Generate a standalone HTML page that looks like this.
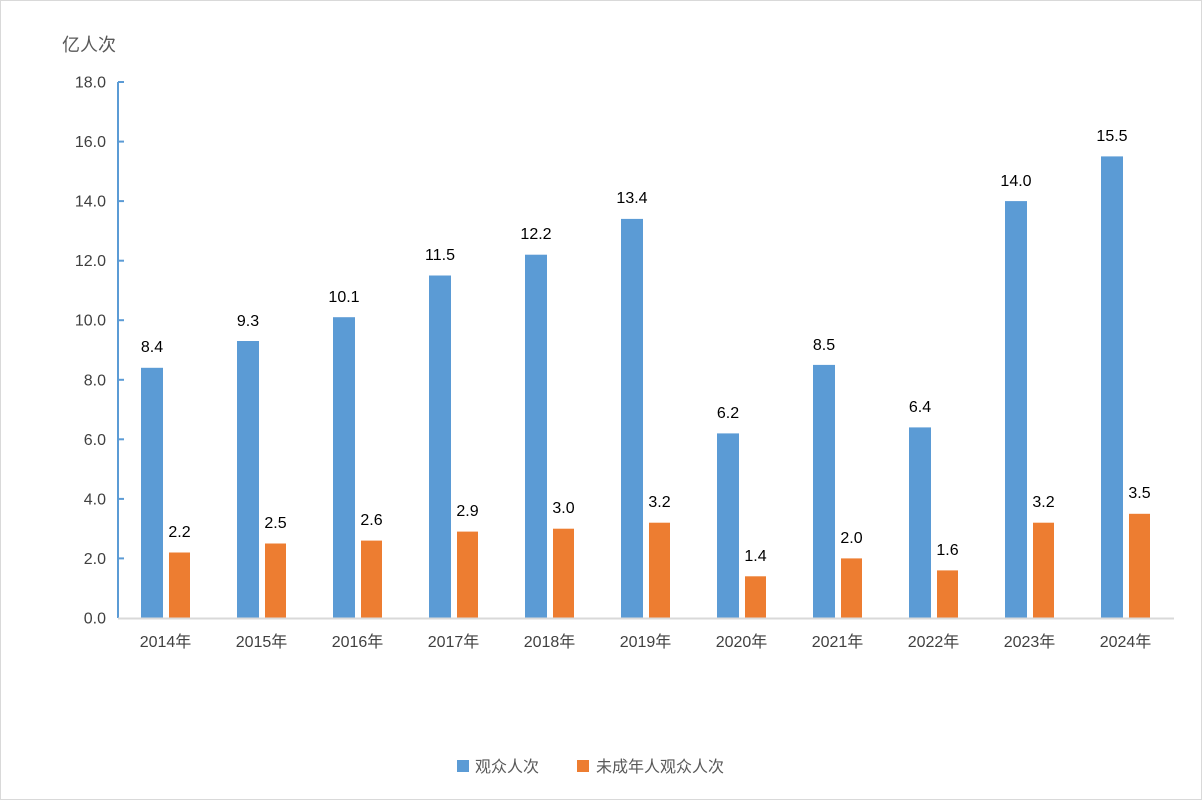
<!DOCTYPE html>
<html><head><meta charset="utf-8"><style>
html,body{margin:0;padding:0;background:#fff}
svg{display:block}
text{font-family:"Liberation Sans","Noto Sans CJK SC",sans-serif;fill:#404040}
</style></head><body>
<svg width="1202" height="800" viewBox="0 0 1202 800" xmlns="http://www.w3.org/2000/svg">
<rect x="0.5" y="0.5" width="1201" height="799" fill="#fff" stroke="#d9d9d9" stroke-width="1"/>
<text x="62" y="51" font-size="18" style="fill:#595959">亿人次</text>
<g font-size="16" text-anchor="end">
<text x="106" y="623.5">0.0</text>
<text x="106" y="563.9">2.0</text>
<text x="106" y="504.4">4.0</text>
<text x="106" y="444.8">6.0</text>
<text x="106" y="385.3">8.0</text>
<text x="106" y="325.7">10.0</text>
<text x="106" y="266.2">12.0</text>
<text x="106" y="206.6">14.0</text>
<text x="106" y="147.1">16.0</text>
<text x="106" y="87.5">18.0</text>
</g>
<g stroke="#5b9bd5" stroke-width="2">
<line x1="118" y1="82" x2="118" y2="618"/>
<line x1="118" y1="82" x2="124" y2="82"/>
<line x1="118" y1="141.6" x2="124" y2="141.6"/>
<line x1="118" y1="201.1" x2="124" y2="201.1"/>
<line x1="118" y1="260.7" x2="124" y2="260.7"/>
<line x1="118" y1="320.2" x2="124" y2="320.2"/>
<line x1="118" y1="379.8" x2="124" y2="379.8"/>
<line x1="118" y1="439.3" x2="124" y2="439.3"/>
<line x1="118" y1="498.9" x2="124" y2="498.9"/>
<line x1="118" y1="558.4" x2="124" y2="558.4"/>
</g>
<g fill="#5b9bd5">
<rect x="141" y="367.8" width="22" height="250.2"/>
<rect x="237" y="341" width="22" height="277"/>
<rect x="333" y="317.2" width="22" height="300.8"/>
<rect x="429" y="275.5" width="22" height="342.5"/>
<rect x="525" y="254.7" width="22" height="363.3"/>
<rect x="621" y="218.9" width="22" height="399.1"/>
<rect x="717" y="433.4" width="22" height="184.6"/>
<rect x="813" y="364.9" width="22" height="253.1"/>
<rect x="909" y="427.4" width="22" height="190.6"/>
<rect x="1005" y="201.1" width="22" height="416.9"/>
<rect x="1101" y="156.4" width="22" height="461.6"/>
</g>
<g fill="#ed7d31">
<rect x="169" y="552.5" width="21" height="65.5"/>
<rect x="265" y="543.5" width="21" height="74.5"/>
<rect x="361" y="540.6" width="21" height="77.4"/>
<rect x="457" y="531.6" width="21" height="86.4"/>
<rect x="553" y="528.7" width="21" height="89.3"/>
<rect x="649" y="522.7" width="21" height="95.3"/>
<rect x="745" y="576.3" width="21" height="41.7"/>
<rect x="841" y="558.4" width="21" height="59.6"/>
<rect x="937" y="570.4" width="21" height="47.6"/>
<rect x="1033" y="522.7" width="21" height="95.3"/>
<rect x="1129" y="513.8" width="21" height="104.2"/>
</g>
<line x1="118" y1="618.5" x2="1174" y2="618.5" stroke="#d9d9d9" stroke-width="2"/>
<g font-size="16" text-anchor="middle">
<text x="152" y="352" style="fill:#000">8.4</text>
<text x="248" y="326" style="fill:#000">9.3</text>
<text x="344" y="302" style="fill:#000">10.1</text>
<text x="440" y="260" style="fill:#000">11.5</text>
<text x="536" y="239" style="fill:#000">12.2</text>
<text x="632" y="203" style="fill:#000">13.4</text>
<text x="728" y="418" style="fill:#000">6.2</text>
<text x="824" y="350" style="fill:#000">8.5</text>
<text x="920" y="412" style="fill:#000">6.4</text>
<text x="1016" y="186" style="fill:#000">14.0</text>
<text x="1112" y="141" style="fill:#000">15.5</text>
<text x="179.5" y="537" style="fill:#000">2.2</text>
<text x="275.5" y="528" style="fill:#000">2.5</text>
<text x="371.5" y="525" style="fill:#000">2.6</text>
<text x="467.5" y="516" style="fill:#000">2.9</text>
<text x="563.5" y="513" style="fill:#000">3.0</text>
<text x="659.5" y="507" style="fill:#000">3.2</text>
<text x="755.5" y="561" style="fill:#000">1.4</text>
<text x="851.5" y="543" style="fill:#000">2.0</text>
<text x="947.5" y="555" style="fill:#000">1.6</text>
<text x="1043.5" y="507" style="fill:#000">3.2</text>
<text x="1139.5" y="498" style="fill:#000">3.5</text>
</g>
<g font-size="16" text-anchor="middle">
<text x="165.5" y="647">2014年</text>
<text x="261.5" y="647">2015年</text>
<text x="357.5" y="647">2016年</text>
<text x="453.5" y="647">2017年</text>
<text x="549.5" y="647">2018年</text>
<text x="645.5" y="647">2019年</text>
<text x="741.5" y="647">2020年</text>
<text x="837.5" y="647">2021年</text>
<text x="933.5" y="647">2022年</text>
<text x="1029.5" y="647">2023年</text>
<text x="1125.5" y="647">2024年</text>
</g>
<rect x="457" y="760" width="12" height="12" fill="#5b9bd5"/>
<text x="475" y="772" font-size="16" style="fill:#595959">观众人次</text>
<rect x="577" y="760" width="12" height="12" fill="#ed7d31"/>
<text x="596" y="772" font-size="16" style="fill:#595959">未成年人观众人次</text>
</svg>
</body></html>
